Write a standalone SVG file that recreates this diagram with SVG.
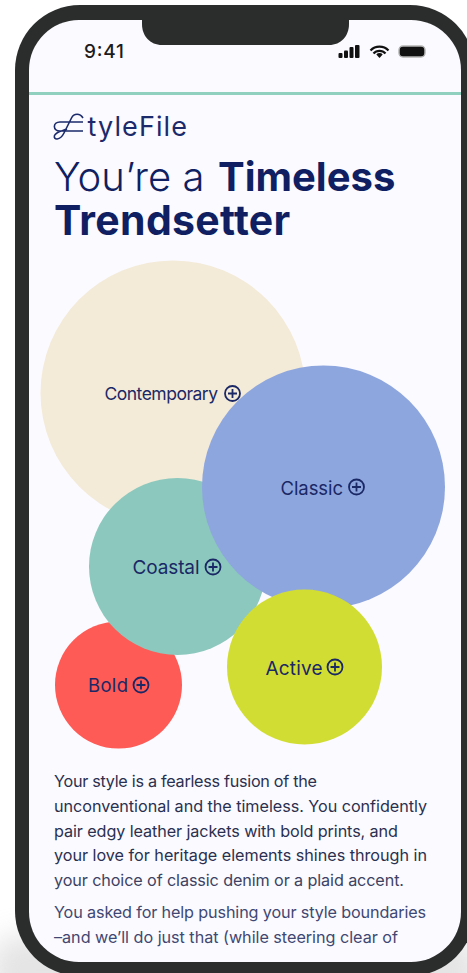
<svg xmlns="http://www.w3.org/2000/svg" width="467" height="973" viewBox="0 0 467 973">
<defs>
<filter id="blur" x="-20%" y="-50%" width="140%" height="200%"><feGaussianBlur stdDeviation="14"/></filter>
</defs>
<style>
text{font-family:"Inter","Liberation Sans",sans-serif;fill:#0f1f62}
.lab{font-size:18.5px;fill:#1a2866}
.body{font-size:16.2px;fill:#2a3050}
.plus{fill:none;stroke:#1a2866;stroke-width:1.8}
</style>
<rect width="467" height="973" fill="#ffffff"/>
<rect x="-10" y="935" width="490" height="70" rx="30" fill="#bdbdbd" opacity=".4" filter="url(#blur)"/>
<g id="phone">
<rect x="15" y="5" width="460" height="971" rx="65" fill="#2b2d2c"/>
<rect x="29" y="20" width="432" height="942" rx="50" fill="#fbfaff"/>
<path d="M142 20H349V24C349 36 341 45 329 45H162C150 45 142 36 142 24Z" fill="#2b2d2c"/>
</g>
<g id="status">
<text x="84" y="57.500" style="font-size:19px;font-weight:500;fill:#1c1c1e" textLength="40">9:41</text>
<g fill="#111">
<rect x="338.500" y="53" width="4" height="5" rx="1"/><rect x="344" y="50.500" width="4" height="7.500" rx="1"/><rect x="349.500" y="47" width="4" height="11" rx="1"/><rect x="355" y="45" width="4.500" height="13" rx="1"/>
<rect x="399" y="46" width="26" height="11" rx="4" stroke="#b5b5b5" stroke-width="1.500"/>
<path d="M379.500 58l-3.200-3.600a4.500 4.500 0 0 1 6.400 0z"/>
</g>
<path d="M370.500 50.500a12.500 12.500 0 0 1 18 0M373.500 53.500a8 8 0 0 1 12 0" fill="none" stroke="#111" stroke-width="2.200"/>
</g>
<rect id="rule" x="29" y="92" width="432" height="3" fill="#8fd0bf"/>
<g id="logo">
<path d="M83 122H60C52.500 122 52.500 131 60 131H83M83 118C80 113 74 113 71.500 118L64 133C60 141 53 140 54.500 135.500C56 131.500 62 131 67 129" fill="none" stroke="#1b2a6b" stroke-width="1.600"/>
<text x="87.500" y="135.500" style="font-size:27px;fill:#1b2a6b" textLength="99.500">tyleFile</text>
</g>
<g id="title">
<text x="54" y="191" style="font-size:40px;font-weight:300">You’re a <tspan x="218" style="font-weight:700">Timeless</tspan></text>
<text x="54" y="235" style="font-size:41px;font-weight:700;letter-spacing:.3px">Trendsetter</text>
</g>
<g id="contemporary">
<circle cx="173" cy="393" r="132.500" fill="#f3ead8"/>
<text class="lab" x="104.500" y="400" textLength="113.500" style="font-size:17.5px">Contemporary</text>
<g class="plus"><circle cx="232.500" cy="393.500" r="7.500"/><path d="M228 393.500h9M232.500 389v9"/></g>
</g>
<g id="bold">
<circle cx="118.500" cy="685" r="63.500" fill="#fe5a56"/>
<text class="lab" x="88" y="692" textLength="40">Bold</text>
<g class="plus"><circle cx="141" cy="685" r="7.500"/><path d="M136.500 685h9M141 680.500v9"/></g>
</g>
<g id="coastal">
<circle cx="177.500" cy="566.500" r="88.500" fill="#8cc8bd"/>
<text class="lab" x="132.500" y="574" textLength="67" style="font-size:19px">Coastal</text>
<g class="plus"><circle cx="213" cy="567" r="7.500"/><path d="M208.500 567h9M213 562.500v9"/></g>
</g>
<g id="classic">
<circle cx="323.500" cy="487" r="121.500" fill="#8ea6de"/>
<text class="lab" x="280.500" y="494.500" textLength="62.500">Classic</text>
<g class="plus"><circle cx="356.500" cy="487" r="7.500"/><path d="M352 487h9M356.500 482.500v9"/></g>
</g>
<g id="active">
<circle cx="304.500" cy="667" r="77.500" fill="#d2dd33"/>
<text class="lab" x="265.500" y="674.500" textLength="57" style="font-size:19px">Active</text>
<g class="plus"><circle cx="335" cy="667" r="7.500"/><path d="M330.500 667h9M335 662.500v9"/></g>
</g>
<g id="copy">
<text class="body" x="54" y="787" textLength="263">Your style is a fearless fusion of the</text>
<text class="body" x="54" y="812" textLength="373">unconventional and the timeless. You confidently</text>
<text class="body" x="54" y="837" textLength="344">pair edgy leather jackets with bold prints, and</text>
<text class="body" x="54" y="861" textLength="373">your love for heritage elements shines through in</text>
<text class="body" x="54" y="886" style="fill:#3c4263" textLength="350">your choice of classic denim or a plaid accent.</text>
<text class="body" x="54" y="918" style="fill:#3f4872" textLength="372">You asked for help pushing your style boundaries</text>
<text class="body" x="54" y="943" style="fill:#3f4872" textLength="344">–and we’ll do just that (while steering clear of</text>
</g>
</svg>
